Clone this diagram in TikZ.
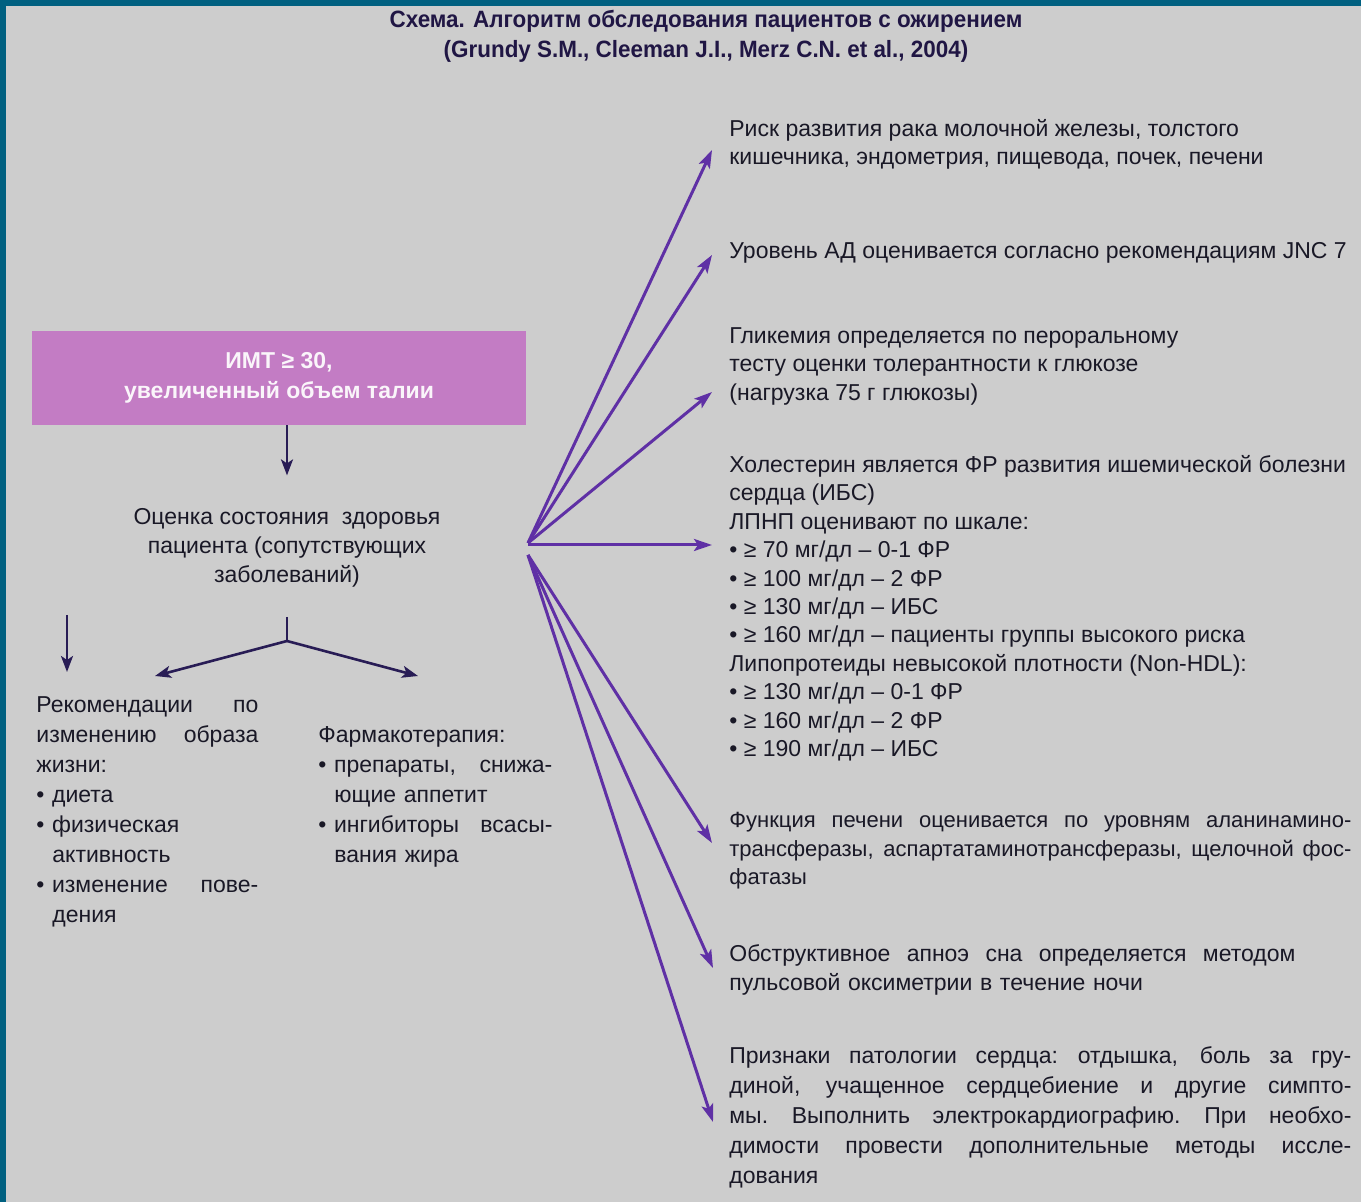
\documentclass[tikz,border=0pt]{standalone}
\usepackage{fontspec}
\setmainfont{Liberation Sans}
\newfontfamily\headfont[FakeStretch=0.95]{Liberation Sans Bold}
\usetikzlibrary{arrows.meta}

\definecolor{frameteal}{RGB}{0,96,128}
\definecolor{pagegray}{RGB}{205,205,205}
\definecolor{boxpink}{RGB}{195,124,196}
\definecolor{fanviolet}{RGB}{95,48,165}
\definecolor{stemink}{RGB}{40,28,85}
\definecolor{textink}{RGB}{25,24,38}
\newcommand{\fl}[2][311pt]{{\spaceskip=0.25em plus 1fil\xspaceskip=0.3em plus 1fil\makebox[#1][s]{#2}}}
\newcommand{\ind}{\hspace*{8pt}}
\newcommand{\bl}{•\hspace{0.33em}}

\begin{document}
\begin{tikzpicture}[x=0.5pt, y=-0.5pt,
        txt/.style={inner sep=0pt, anchor=north west, align=left, text=textink,
                font=\fontsize{11.5pt}{14.25pt}\selectfont},
        fan/.style={fanviolet, line width=1.5pt, -{Stealth[length=9pt,width=6pt,inset=2pt]}},
        stem/.style={stemink, line width=1.3pt, -{Stealth[length=8pt,width=6pt,inset=2pt]}}]
        \useasboundingbox (0,0) rectangle (1361,1202);
        \fill[frameteal] (0,0) rectangle (1361,1202);
        \fill[pagegray] (6,6) rectangle (1361,1202);

        \node[inner sep=0pt, anchor=north, align=center, text=stemink!80!black,
                font=\headfont\fontsize{11.8pt}{15pt}\selectfont] (title) at (706,10)
                {Схема. Алгоритм обследования пациентов с ожирением\\
                (Grundy S.M., Cleeman J.I., Merz C.N. et al., 2004)};

        \node[fill=boxpink, minimum width=247pt, minimum height=47pt, align=center,
                text=white!92!boxpink, font=\bfseries\fontsize{11.5pt}{15pt}\selectfont] (bmi) at (279,378)
                {ИМТ ≥ 30,\\ увеличенный объем талии};
        \node[txt, anchor=north, align=center, font=\fontsize{11.5pt}{14.5pt}\selectfont] (health) at (287,508)
                {Оценка состояния \ здоровья\\ пациента (сопутствующих\\ заболеваний)};
        \draw[stem] (bmi.south -| health.north) -- ++(0,50);

        \coordinate (fork) at (287,641);
        \draw[stem, -] (287,617) -- (fork);
        \draw[stem] (fork) -- (155,676);
        \draw[stem] (fork) -- (418,676);
        \draw[stem] (67,615) -- (67,672);

        \node[txt, text width=111pt, font=\fontsize{11.5pt}{15pt}\selectfont] (life) at (36,696)
                {\fl[111pt]{Рекомендации по}\\ \fl[111pt]{изменению образа}\\ жизни:\\
                • диета\\ • физическая\\ \ind активность\\ \fl[111pt]{\bl изменение пове-}\\ \ind дения};
        \node[txt, text width=117pt, font=\fontsize{11.5pt}{15pt}\selectfont] (pharm) at (318,726)
                {Фармакотерапия:\\ \fl[117pt]{\bl препараты, снижа-}\\ \ind ющие аппетит\\
                \fl[117pt]{\bl ингибиторы всасы-}\\ \ind вания жира};

        \node[txt] (cancer) at (729,119)
                {Риск развития рака молочной железы, толстого\\
                кишечника, эндометрия, пищевода, почек, печени};
        \node[txt] (pressure) at (729,242)
                {Уровень АД оценивается согласно рекомендациям JNC 7};
        \node[txt] (glucose) at (729,327)
                {Гликемия определяется по пероральному\\
                тесту оценки толерантности к глюкозе\\
                (нагрузка 75 г глюкозы)};
        \node[txt, font=\fontsize{11.5pt}{14.2pt}\selectfont] (chol) at (729,455)
                {Холестерин является ФР развития ишемической болезни\\
                сердца (ИБС)\\
                ЛПНП оценивают по шкале:\\
                • ≥ 70 мг/дл – 0-1 ФР\\
                • ≥ 100 мг/дл – 2 ФР\\
                • ≥ 130 мг/дл – ИБС\\
                • ≥ 160 мг/дл – пациенты группы высокого риска\\
                Липопротеиды невысокой плотности (Non-HDL):\\
                • ≥ 130 мг/дл – 0-1 ФР\\
                • ≥ 160 мг/дл – 2 ФР\\
                • ≥ 190 мг/дл – ИБС};
        \node[txt, text width=311pt, font=\fontsize{11pt}{14.25pt}\selectfont] (liver) at (729,812)
                {\fl{Функция печени оценивается по уровням аланинамино-}\\
                \fl{трансферазы, аспартатаминотрансферазы, щелочной фос-}\\
                фатазы};
        \node[txt, text width=283pt, font=\fontsize{11.5pt}{14.5pt}\selectfont] (apnea) at (729,944)
                {\fl[283pt]{Обструктивное апноэ сна определяется методом}\\
                пульсовой оксиметрии в течение ночи};
        \node[txt, text width=311pt, font=\fontsize{11.5pt}{15pt}\selectfont] (heart) at (729,1046)
                {\fl{Признаки патологии сердца: отдышка, боль за гру-}\\
                \fl{диной, учащенное сердцебиение и другие симпто-}\\
                \fl{мы. Выполнить электрокардиографию. При необхо-}\\
                \fl{димости провести дополнительные методы иссле-}\\
                дования};

        \coordinate (hub) at (528,543);
        \coordinate (hublow) at (528,555);
        \draw[fan] (hub) -- (712,150);
        \draw[fan] (hub) -- (712,255);
        \draw[fan] (hub) -- (712,392);
        \draw[fan] (528,545) -- (712,545);
        \draw[fan] (hublow) -- (712,843);
        \draw[fan] (hublow) -- (713,968);
        \draw[fan] (hublow) -- (713,1122);
\end{tikzpicture}
\end{document}
